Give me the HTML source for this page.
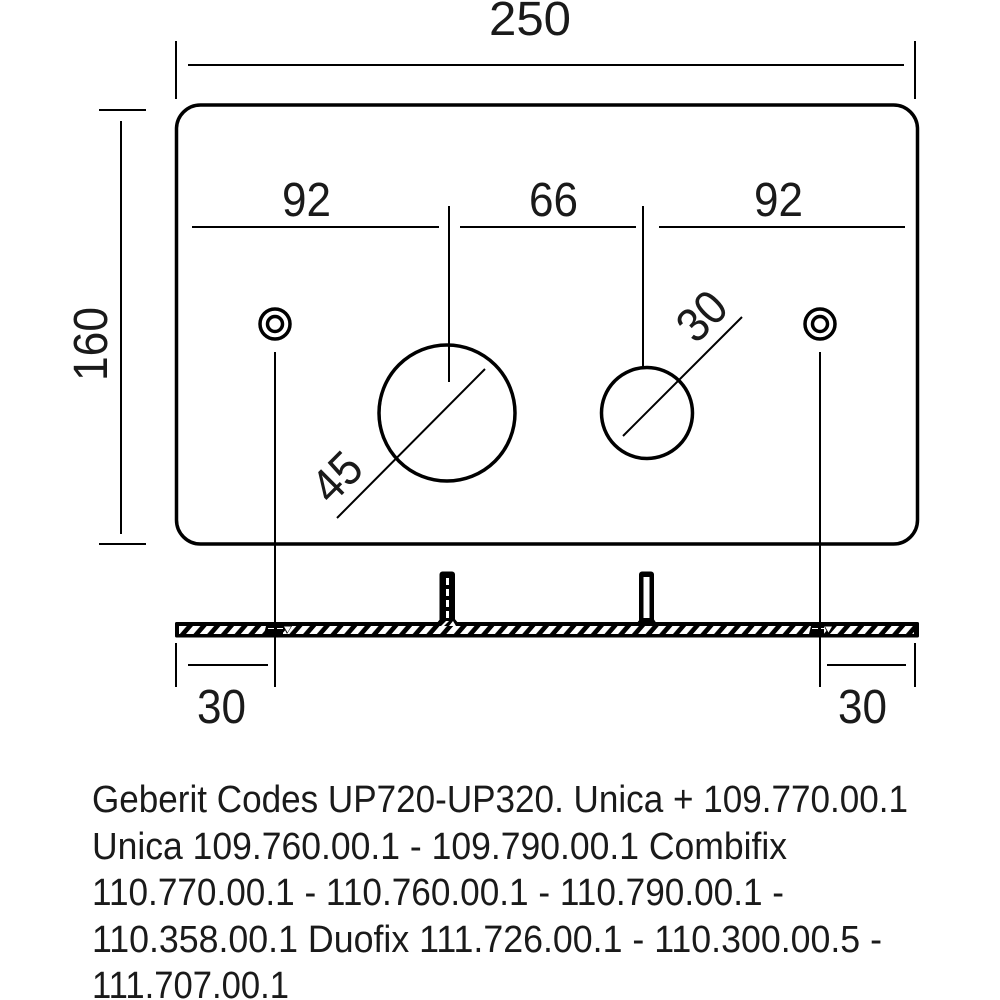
<!DOCTYPE html>
<html><head><meta charset="utf-8"><style>
html,body{margin:0;padding:0;background:#fff;width:1000px;height:1000px;overflow:hidden}
svg{display:block}
text{font-family:"Liberation Sans",sans-serif;fill:#1a1a1a}
</style></head><body>
<svg width="1000" height="1000" viewBox="0 0 1000 1000">
<defs>
<pattern id="h" patternUnits="userSpaceOnUse" width="13.7" height="8" patternTransform="translate(186 634) skewX(-41)">
<rect x="0" y="0" width="7.500" height="8" fill="#fff"/>
</pattern>
</defs>
<rect width="1000" height="1000" fill="#fff"/>
<g fill="none" stroke="#000">
<rect x="176.500" y="105" width="741" height="439" rx="24" stroke-width="3.500"/>
<g stroke-width="2">
<path d="M176 41V99M915 41V99M188 65H904"/>
<path d="M99 110H146M99 544H146M121 121V534"/>
<path d="M192 227H439M460 227H636M659 227H905"/>
<path d="M449 206V382M643 206V368"/>
<path d="M337 518L485 369M623 436L742 317"/>
</g>
<circle cx="447" cy="413" r="68" stroke-width="3.500"/>
<circle cx="647" cy="413" r="45.500" stroke-width="3.500"/>
<circle cx="275" cy="324" r="15" stroke-width="3.500"/>
<circle cx="275" cy="324" r="7.500" stroke-width="3.500"/>
<circle cx="820" cy="324" r="15" stroke-width="3.500"/>
<circle cx="820" cy="324" r="7.500" stroke-width="3.500"/>
</g>
<g fill="#000">
<rect x="175" y="622" width="744" height="15.500" rx="1.500"/>
<rect x="439.500" y="571.500" width="15.500" height="52" rx="3"/>
<rect x="639" y="571.500" width="15" height="52" rx="3"/>
<path d="M436 624L441 618H454L459 624ZM636 624L641 618H653L657 624Z"/>
</g>
<rect x="643.500" y="577" width="6" height="41" fill="#fff"/>
<path d="M447.500 578V618" stroke="#fff" stroke-width="3" stroke-dasharray="7 4"/>
<rect x="179" y="626" width="735" height="8" fill="url(#h)"/>
<path d="M441 626L446 621H449L444 626ZM449 626L453 621L456 626Z" fill="#fff"/>
<path d="M266 626H283V634H264ZM811 626H824V634H809Z" fill="#000"/>
<path d="M283 626H292L287 634ZM824 626H833L828 634Z" fill="#000" />
<path d="M284 626.500H291L287.500 632.500ZM825 626.500H832L828.500 632.500Z" fill="#fff"/>
<path d="M268 628.500H274M277 628.500H283M812 628.500H818M821 628.500H825" stroke="#fff" stroke-width="1"/>
<g fill="none" stroke="#000" stroke-width="2">
<path d="M275 352V687M820 352V687"/>
<path d="M176 643V687M915 643V687M188 665H268M827 665H906"/>
</g>
<g font-size="48">
<text x="489" y="35" textLength="82" lengthAdjust="spacingAndGlyphs">250</text>
<text x="282" y="216" textLength="49" lengthAdjust="spacingAndGlyphs">92</text>
<text x="529" y="216" textLength="49" lengthAdjust="spacingAndGlyphs">66</text>
<text x="754" y="216" textLength="49" lengthAdjust="spacingAndGlyphs">92</text>
<text x="197" y="723" textLength="49" lengthAdjust="spacingAndGlyphs">30</text>
<text x="838" y="723" textLength="49" lengthAdjust="spacingAndGlyphs">30</text>
<text transform="translate(107 381) rotate(-90)" textLength="74" lengthAdjust="spacingAndGlyphs">160</text>
<text transform="translate(331 506) rotate(-45)" textLength="49" lengthAdjust="spacingAndGlyphs">45</text>
<text transform="translate(696 345) rotate(-45)" textLength="49" lengthAdjust="spacingAndGlyphs">30</text>
</g>
<g font-size="38">
<text x="92" y="812" textLength="816" lengthAdjust="spacingAndGlyphs">Geberit Codes UP720-UP320. Unica + 109.770.00.1</text>
<text x="92" y="859" textLength="695" lengthAdjust="spacingAndGlyphs">Unica 109.760.00.1 - 109.790.00.1 Combifix</text>
<text x="92" y="905" textLength="692" lengthAdjust="spacingAndGlyphs">110.770.00.1 - 110.760.00.1 - 110.790.00.1 -</text>
<text x="92" y="952" textLength="790" lengthAdjust="spacingAndGlyphs">110.358.00.1 Duofix 111.726.00.1 - 110.300.00.5 -</text>
<text x="92" y="998" textLength="197" lengthAdjust="spacingAndGlyphs">111.707.00.1</text>
</g>
</svg>
</body></html>
